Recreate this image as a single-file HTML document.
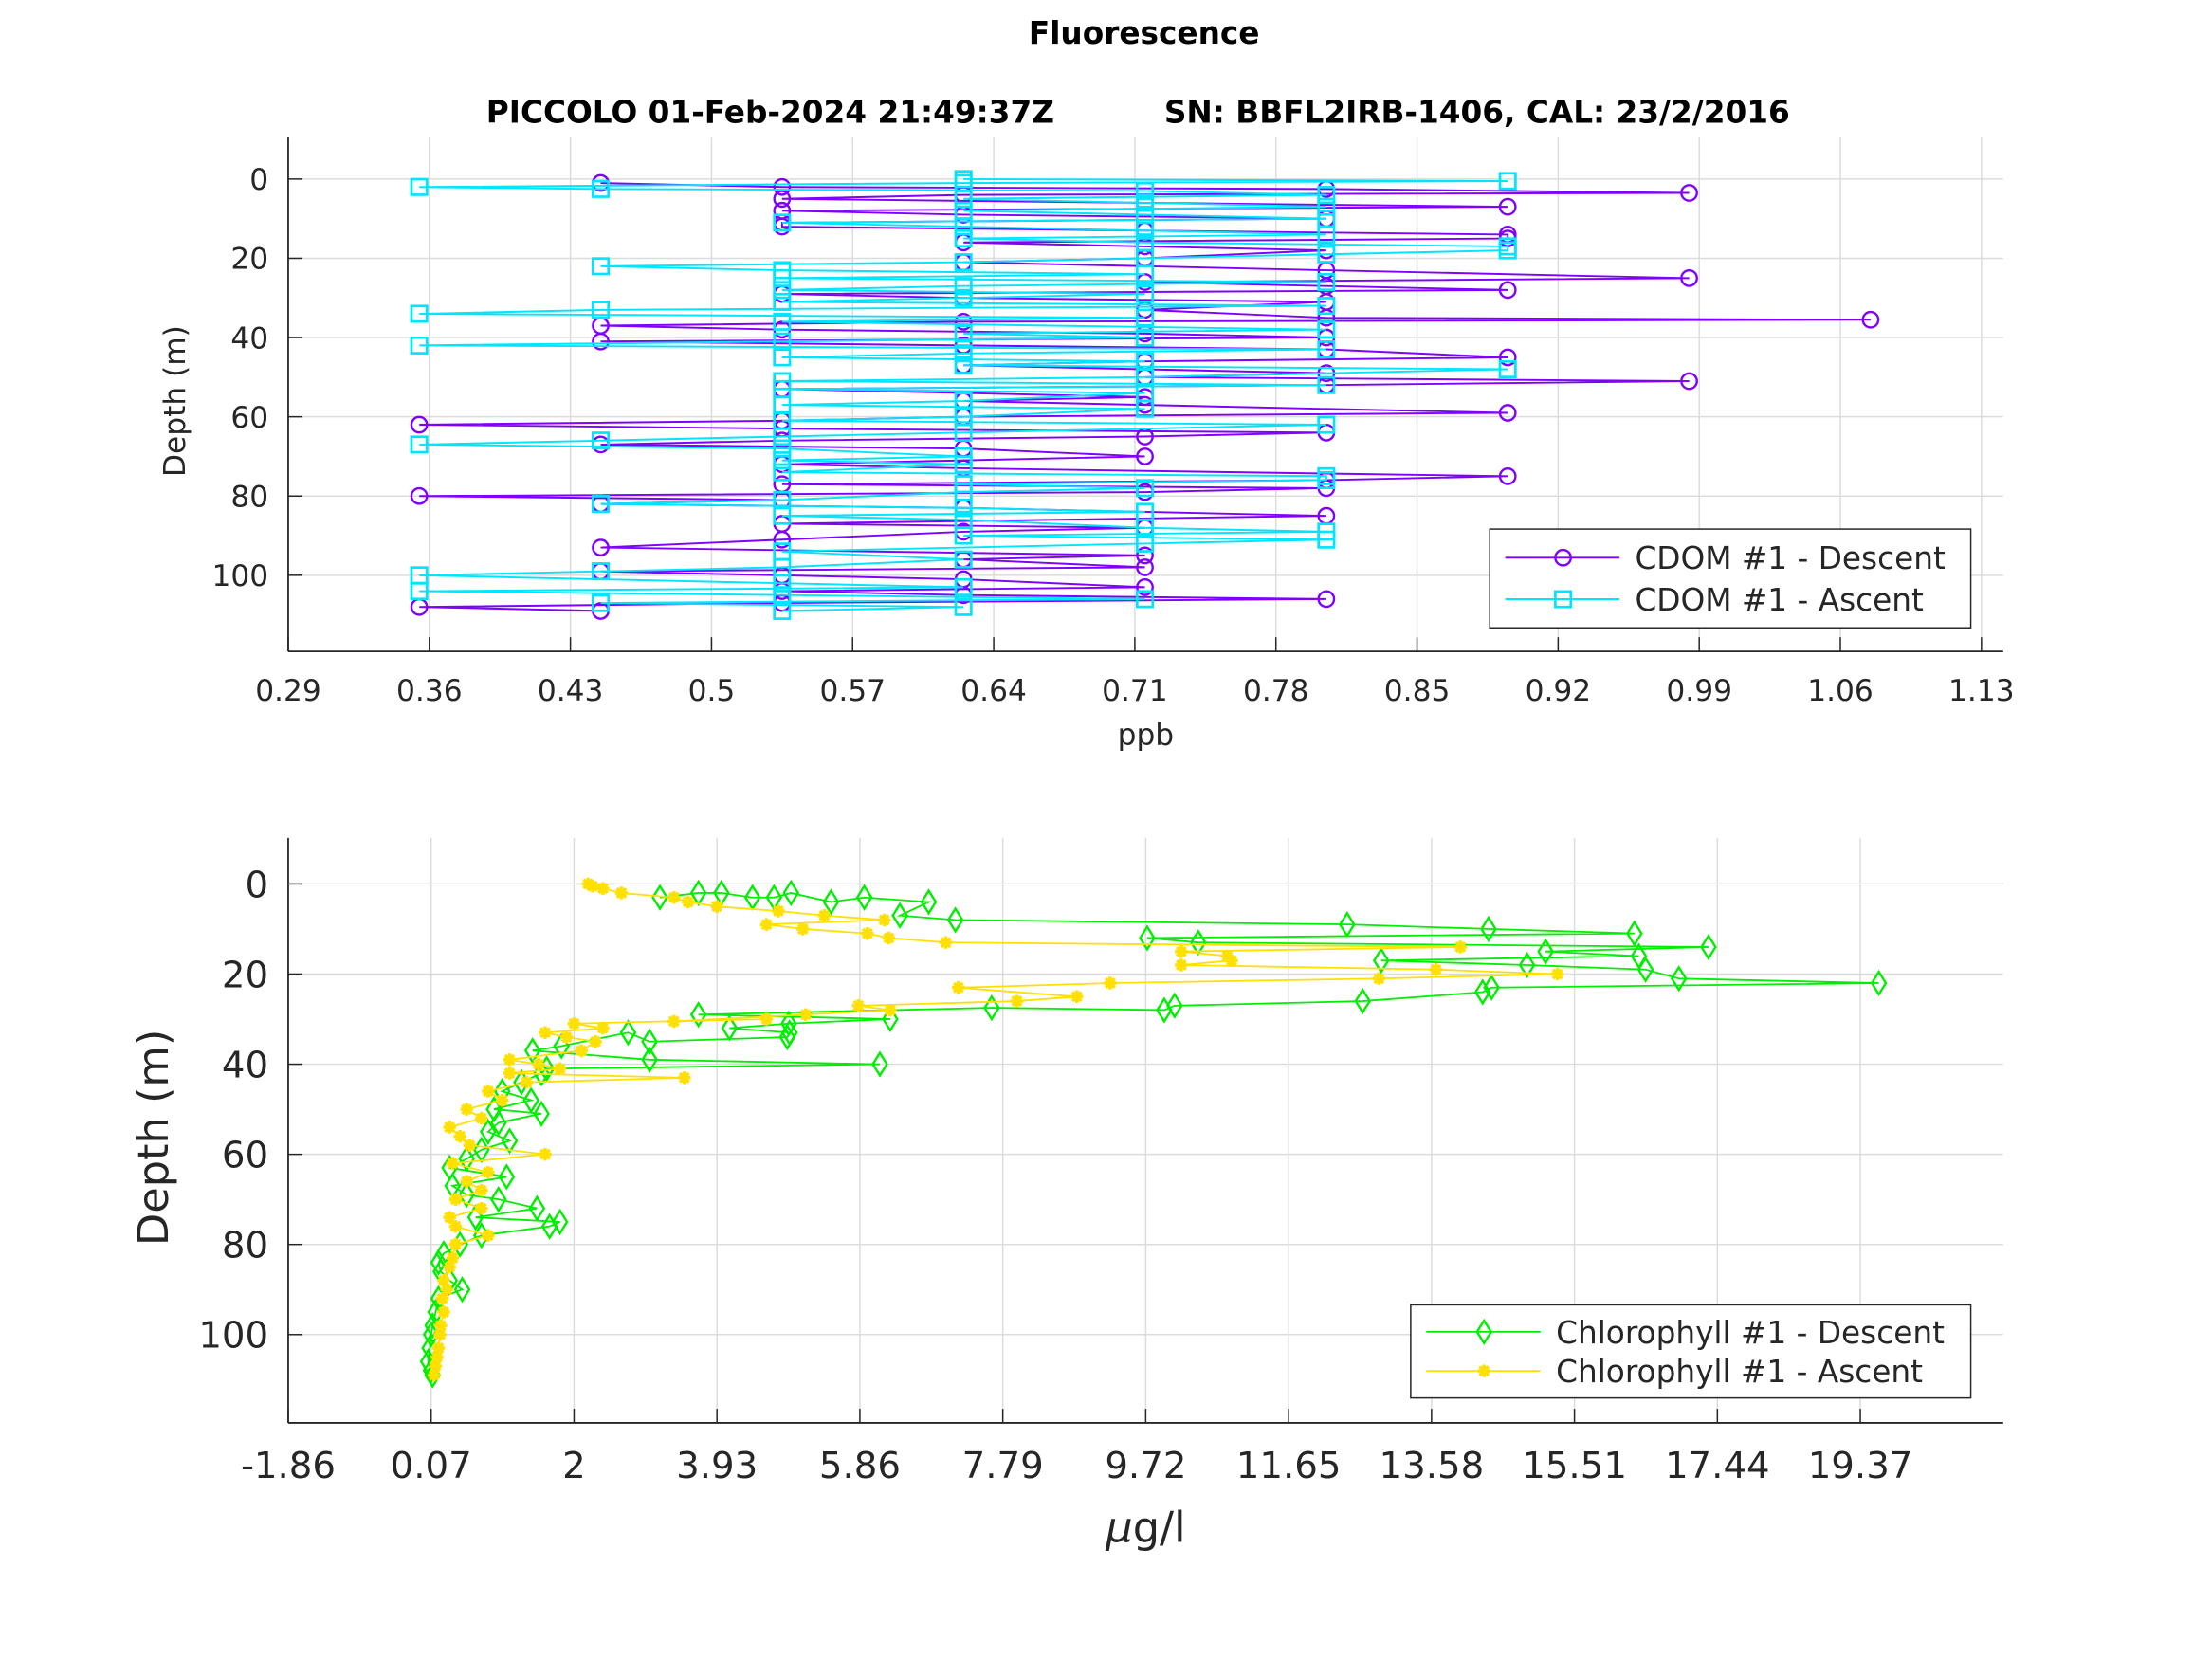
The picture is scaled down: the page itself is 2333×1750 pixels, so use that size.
<!DOCTYPE html>
<html><head><meta charset="utf-8"><style>
html,body{margin:0;padding:0;background:#fff}
svg{display:block}
text{font-family:"DejaVu Sans","Liberation Sans",sans-serif}
</style></head><body>
<svg id="fig" width="2333" height="1750" viewBox="0 0 1568 1176" xmlns="http://www.w3.org/2000/svg">
<rect width="1568" height="1176" fill="#fff"/>
<text x="811" y="31" text-anchor="middle" font-size="22" font-weight="bold">Fluorescence</text>
<text x="546" y="87" text-anchor="middle" font-size="22" font-weight="bold">PICCOLO 01-Feb-2024 21:49:37Z</text>
<text x="1047" y="87" text-anchor="middle" font-size="22" font-weight="bold">SN: BBFL2IRB-1406, CAL: 23/2/2016</text>
<g id="top"></g>
<g id="bot"></g>
</svg>
<script>
const cdomTicks=[0.29,0.36,0.43,0.5,0.57,0.64,0.71,0.78,0.85,0.92,0.99,1.06,1.13];
const cdomTickLabels=["0.29","0.36","0.43","0.5","0.57","0.64","0.71","0.78","0.85","0.92","0.99","1.06","1.13"];
const depthTicks=[0,20,40,60,80,100];
const cdomDescDepth=[1,2,2.5,3.5,4,5,6,7,8,9,10,11,12,13,14,15,16,17,18,20,21,23,25,26,27,28,29,30,31,33,35,35.5,36,37,38,39,40,41,42,43,45,46,47,49,50,51,52,53,55,56,57,59,60,61,62,63,64,65,66,67,68,70,72,73,75,76,77,78,79,80,81,82,83,85,87,88,89,91,93,95,96,98,99,100,101,103,104,105,106,107,108,109];
const cdomDescVal=[0.445,0.535,0.805,0.985,0.625,0.535,0.715,0.895,0.535,0.625,0.805,0.535,0.535,0.715,0.895,0.895,0.625,0.715,0.805,0.715,0.625,0.805,0.985,0.715,0.805,0.895,0.535,0.625,0.805,0.715,0.805,1.075,0.625,0.445,0.535,0.715,0.805,0.445,0.625,0.805,0.895,0.715,0.625,0.805,0.715,0.985,0.805,0.535,0.715,0.625,0.715,0.895,0.625,0.535,0.355,0.535,0.805,0.715,0.535,0.445,0.625,0.715,0.535,0.625,0.895,0.805,0.535,0.805,0.715,0.355,0.535,0.445,0.625,0.805,0.535,0.715,0.625,0.535,0.445,0.715,0.625,0.715,0.445,0.535,0.625,0.715,0.535,0.625,0.805,0.535,0.355,0.445];
const cdomAscDepth=[109,108,107,106,105,104,103,102,100,99,98,96,94,92,91,90,89,88,86,85,84,83,82,81,79,78,77,76,75,74,72,71,70,68,67,66,65,64,62,61,60,58,57,56,54,53,52,51,50,48,47,46,45,44,43,42,41,40,39,38,36,35,34,33,32,31,30,29,28,27,26,25,24,23,22,21,20,19,18,17,16,15,14,13,12,11,10,9,8,7,6,5,4,3,2.5,2,1,0.5,0];
const cdomAscVal=[0.535,0.625,0.445,0.715,0.535,0.355,0.625,0.535,0.355,0.445,0.535,0.625,0.535,0.715,0.805,0.625,0.805,0.715,0.625,0.535,0.715,0.625,0.445,0.535,0.625,0.715,0.625,0.805,0.805,0.535,0.625,0.535,0.625,0.535,0.355,0.445,0.535,0.625,0.805,0.535,0.625,0.715,0.535,0.625,0.715,0.535,0.805,0.535,0.715,0.895,0.625,0.715,0.535,0.625,0.805,0.355,0.535,0.715,0.625,0.805,0.535,0.715,0.355,0.445,0.805,0.535,0.625,0.715,0.535,0.625,0.805,0.535,0.715,0.535,0.445,0.625,0.715,0.805,0.895,0.895,0.715,0.625,0.805,0.715,0.625,0.535,0.805,0.715,0.625,0.805,0.715,0.625,0.805,0.715,0.445,0.355,0.625,0.895,0.625];
const chlTicks=[-1.86,0.07,2,3.93,5.86,7.79,9.72,11.65,13.58,15.51,17.44,19.37];
const chlTickLabels=["-1.86","0.07","2","3.93","5.86","7.79","9.72","11.65","13.58","15.51","17.44","19.37"];
const chlDescDepth=[3,2,2,3,3,2,4,3,4,7,8,9,10,11,12,13,14,15,16,17,18,19,21,22,23,24,26,27,28,27.5,29,30,31,32,33,34,35,33,36,37,39,40,41,42,44,46,48,50,51,53,55,57,59,61,63,65,67,69,70,72,74,75,76,78,80,82,84,86,88,90,92,95,98,100,103,106,108,109];
const chlDescVal=[3.16,3.68,3.99,4.41,4.7,4.93,5.47,5.92,6.79,6.4,7.15,12.44,14.35,16.32,9.74,10.43,17.32,15.12,16.38,12.9,14.87,16.47,16.92,19.62,14.39,14.27,12.65,10.11,9.97,7.64,3.68,6.27,4.9,4.1,4.91,4.88,3.02,2.73,1.83,1.44,3.02,6.13,1.63,1.56,1.29,1.03,1.42,0.92,1.56,0.98,0.84,1.13,0.75,0.55,0.32,1.09,0.36,0.55,0.98,1.5,0.67,1.81,1.67,0.75,0.46,0.24,0.17,0.2,0.32,0.49,0.17,0.13,0.09,0.07,0.05,0.03,0.07,0.09];
const chlAscDepth=[109,107,105,103,100,98,95,92,90,88,85,83,80,78,76,74,72,70,68,66,64,62,60,58,56,54,52,50,48,46,44,43,42,41,40,39,37,35,34,33,32,31,30,30.5,29,28,27,26,25,23,22,21,20,19,18,17,16,15,14,13,12,11,10,9,8,7,6,5,4,3,2,1,0.5,0];
const chlAscVal=[0.11,0.13,0.15,0.17,0.19,0.2,0.24,0.22,0.28,0.24,0.32,0.36,0.4,0.84,0.4,0.32,0.75,0.4,0.75,0.55,0.84,0.36,1.61,0.59,0.46,0.32,0.75,0.55,1.03,0.84,1.36,3.49,1.13,1.81,1.52,1.13,2.1,2.29,1.9,1.61,2.39,2.0,4.6,3.35,5.13,6.27,5.84,7.98,8.79,7.19,9.24,12.87,15.28,13.64,10.2,10.88,10.82,10.2,13.97,7.02,6.25,5.96,5.09,4.6,6.19,5.38,4.76,3.93,3.54,3.35,2.64,2.39,2.25,2.19];

const NS="http://www.w3.org/2000/svg";
function mk(parent,tag,attrs){const e=document.createElementNS(NS,tag);for(const k in attrs)e.setAttribute(k,attrs[k]);parent.appendChild(e);return e;}
function lin(d0,d1,r0,r1){return v=>r0+(v-d0)/(d1-d0)*(r1-r0);}

function marker(g,type,x,y,color){
  let e;
  if(type==='o'){e=mk(g,'circle',{cx:x,cy:y,r:5.5,fill:'none',stroke:color,'stroke-width':1.6});}
  else if(type==='s'){e=mk(g,'rect',{x:x-5.5,y:y-5.5,width:11,height:11,fill:'none',stroke:color,'stroke-width':1.8});}
  else if(type==='d'){e=mk(g,'path',{d:`M${x} ${y-8}L${x+5} ${y}L${x} ${y+8}L${x-5} ${y}Z`,fill:'none',stroke:color,'stroke-width':1.6});}
  else {e=mk(g,'path',{d:`M${x-4.5} ${y}H${x+4.5}M${x} ${y-4.5}V${y+4.5}M${x-3.2} ${y-3.2}L${x+3.2} ${y+3.2}M${x-3.2} ${y+3.2}L${x+3.2} ${y-3.2}`,stroke:color,'stroke-width':2.4});}
  return e;
}

function panel(gid,cfg){
  const g=document.getElementById(gid);
  const {L,R,T,B}=cfg;
  const sx=lin(cfg.xmin,cfg.xmax,L,R), sy=lin(cfg.ymin,cfg.ymax,T,B);
  const grid=mk(g,'g',{});
  
  
  cfg.xt.forEach(v=>mk(grid,'line',{x1:sx(v),x2:sx(v),y1:T,y2:B,stroke:'#dcdcdc','stroke-width':1}));
  depthTicks.forEach(v=>mk(grid,'line',{x1:L,x2:R,y1:sy(v),y2:sy(v),stroke:'#dcdcdc','stroke-width':1}));
  const series=[[cfg.d1,cfg.v1,cfg.c1,cfg.m1,cfg.n1],[cfg.d2,cfg.v2,cfg.c2,cfg.m2,cfg.n2]];
  series.forEach(([dd,vv,c,m,n])=>{
    const sg=mk(g,'g',{});
    
    
    const pts=dd.map((d,i)=>sx(vv[i]).toFixed(1)+','+sy(d).toFixed(1)).join(' ');
    mk(sg,'polyline',{points:pts,fill:'none',stroke:c,'stroke-width':cfg.lw});
    dd.forEach((d,i)=>marker(sg,m,sx(vv[i]),sy(d),c));
  });
  const ax=mk(g,'g',{});
  
  
  mk(ax,'line',{x1:L,x2:L,y1:T,y2:B,stroke:'#262626','stroke-width':1.2});
  mk(ax,'line',{x1:L,x2:R,y1:B,y2:B,stroke:'#262626','stroke-width':1.2});
  cfg.xt.forEach((v,i)=>{
    mk(ax,'line',{x1:sx(v),x2:sx(v),y1:B,y2:B-10,stroke:'#262626','stroke-width':1});
    const t=mk(ax,'text',{x:sx(v),y:B+cfg.xtOff,'text-anchor':'middle','font-size':cfg.fs,fill:'#262626'});
    
    
    t.textContent=cfg.xl[i];
  });
  depthTicks.forEach(v=>{
    mk(ax,'line',{x1:L,x2:L+10,y1:sy(v),y2:sy(v),stroke:'#262626','stroke-width':1});
    const t=mk(ax,'text',{x:L-14,y:sy(v)+cfg.fs*0.36,'text-anchor':'end','font-size':cfg.fs,fill:'#262626'});
    
    
    t.textContent=v;
  });
  const xl=mk(ax,'text',{x:(L+R)/2,y:cfg.xlabY,'text-anchor':'middle','font-size':cfg.lfs,fill:'#262626'});
  
  
  xl.innerHTML=cfg.xlabel;
  const yl=mk(ax,'text',{x:0,y:0,transform:`translate(${cfg.ylabX},${(T+B)/2+5}) rotate(-90)`,'text-anchor':'middle','font-size':cfg.lfs,fill:'#262626'});
  
  
  yl.textContent='Depth (m)';
  const lg=mk(g,'g',{});
  
  
  const [lx,ly,lw,lh]=cfg.leg;
  mk(lg,'rect',{x:lx,y:ly,width:lw,height:lh,fill:'#fff',stroke:'#262626','stroke-width':1});
  series.forEach(([dd,vv,c,m,n],i)=>{
    const yy=ly+lh*(0.29+0.42*i);
    const e=mk(lg,'g',{});
    
    
    mk(e,'line',{x1:lx+11,x2:lx+92,y1:yy,y2:yy,stroke:c,'stroke-width':cfg.lw});
    marker(e,m,lx+52,yy,c);
    const t=mk(e,'text',{x:lx+103,y:yy+8,'font-size':22,fill:'#262626'});
    t.textContent=cfg.lab[i];
  });
}

panel('top',{L:204.3,R:1420,T:96.8,B:461.7,xmin:0.29,xmax:1.1408,ymin:-10.7,ymax:119.2,
  xt:cdomTicks,xl:cdomTickLabels,fs:21,lfs:21,xtOff:35,xlabY:528,xlabel:'ppb',ylabX:131,lw:1.3,
  d1:cdomDescDepth,v1:cdomDescVal,c1:'#7f00ff',m1:'o',n1:'cdom-descent-series',
  d2:cdomAscDepth,v2:cdomAscVal,c2:'#00e5ff',m2:'s',n2:'cdom-ascent-series',
  leg:[1056,375,341,70],lab:['CDOM #1 - Descent','CDOM #1 - Ascent']});
panel('bot',{L:204.3,R:1420,T:594,B:1008.7,xmin:-1.86,xmax:21.3,ymin:-10.2,ymax:119.6,
  xt:chlTicks,xl:chlTickLabels,fs:26,lfs:30,xtOff:39,xlabY:1093,xlabel:'<tspan font-style="italic">μ</tspan>g/l',ylabX:119,lw:1.2,
  d1:chlDescDepth,v1:chlDescVal,c1:'#00ee00',m1:'d',n1:'chlorophyll-descent-series',
  d2:chlAscDepth,v2:chlAscVal,c2:'#ffe000',m2:'*',n2:'chlorophyll-ascent-series',
  leg:[1000,925,397,66],lab:['Chlorophyll #1 - Descent','Chlorophyll #1 - Ascent']});
</script>
</body></html>
